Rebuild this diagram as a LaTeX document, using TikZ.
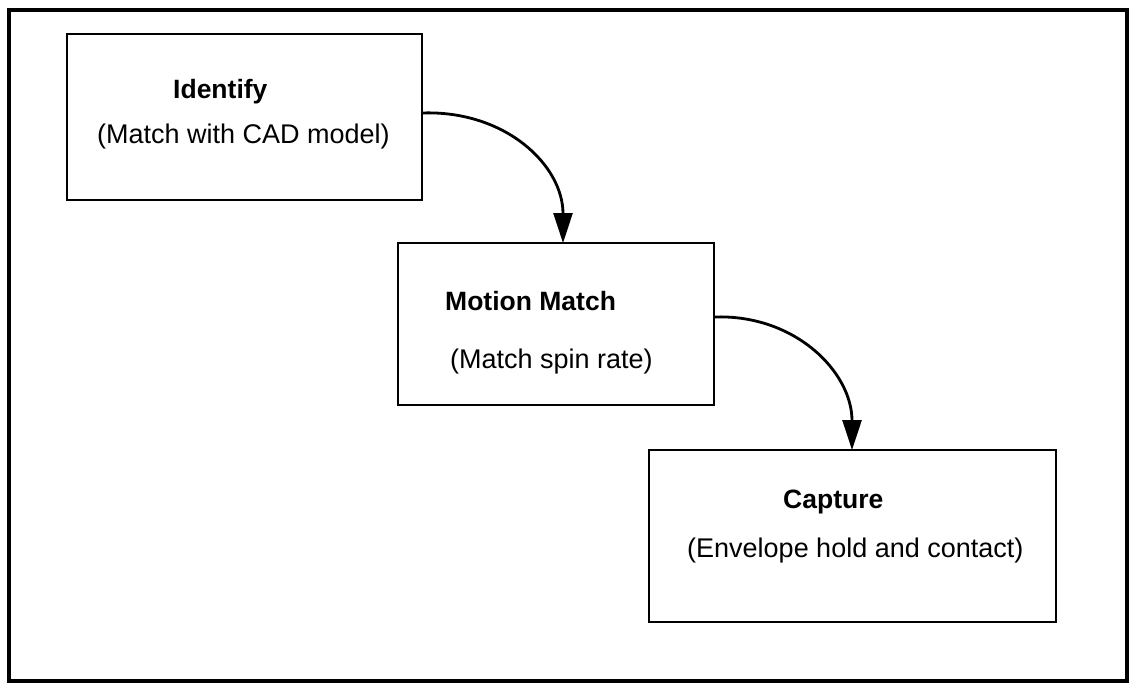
\documentclass[tikz,border=0pt]{standalone}
\usepackage{fontspec}
\setmainfont{Liberation Sans}
\usetikzlibrary{arrows.meta}
\begin{document}
\begin{tikzpicture}[x=1pt,y=-1pt,
  stepbox/.style={draw,line width=2.8pt,fill=white},
  lbl/.style={inner sep=0pt,anchor=base west,font=\fontsize{27}{31}\selectfont},
  blbl/.style={inner sep=0pt,anchor=base west,font=\fontsize{26.5}{31}\selectfont\bfseries},
  flow/.style={line width=2.8pt,-{Triangle[length=30pt,width=19pt]}}]
\useasboundingbox (0,0) rectangle (1132,685);
\draw[line width=4.5pt] (9,10) rectangle (1127,681);
% boxes
\draw[stepbox] (67,34) rectangle (422,200);
\draw[stepbox] (398,243) rectangle (714,405);
\draw[stepbox] (649,450) rectangle (1056,622);
\coordinate (b1r) at (422,113);
\coordinate (b2t) at (563,243);
\coordinate (b2r) at (714,317);
\coordinate (b3t) at (852,450);
% labels
\node[blbl] (t1) at (173,98) {Identify};
\node[lbl] (s1) at (97,143) {(Match with CAD model)};
\node[blbl] (t2) at (445,310) {Motion Match};
\node[lbl] (s2) at (450,368) {(Match spin rate)};
\node[blbl] (t3) at (783,508) {Capture};
\node[lbl] (s3) at (687,557) {(Envelope hold and contact)};
% connectors
\draw[flow] (b1r) .. controls (505,110) and (563,165) .. (b2t);
\draw[flow] (b2r) .. controls (795,314) and (852,372) .. (b3t);
\end{tikzpicture}
\end{document}
